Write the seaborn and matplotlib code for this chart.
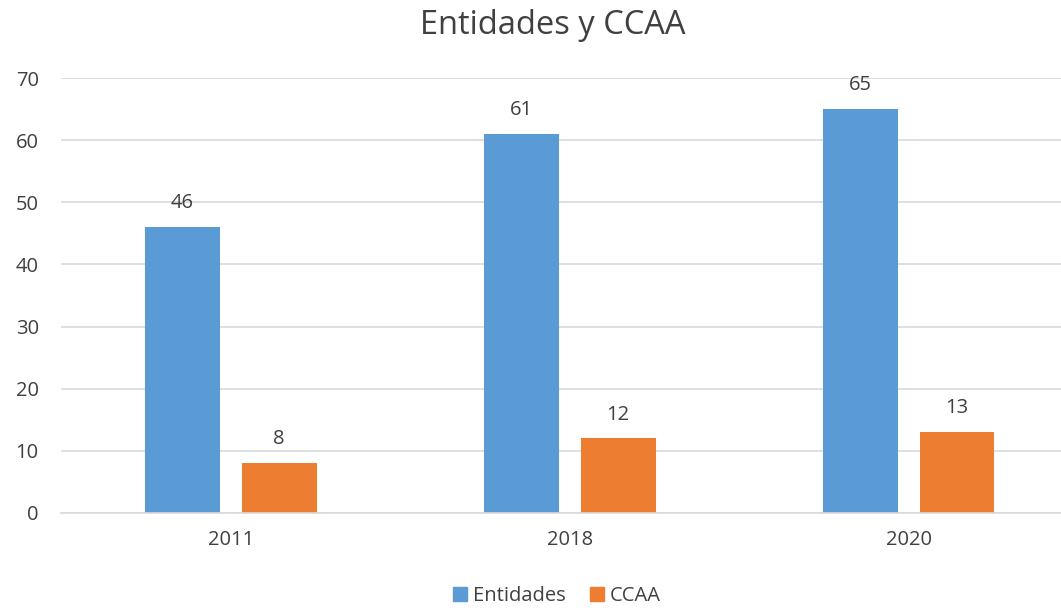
import pandas as pd
import matplotlib.pyplot as plt
import seaborn as sns
from matplotlib.patches import Patch

# datos del gráfico
years = ['2011', '2018', '2020']
entidades = [46, 61, 65]
ccaa = [8, 12, 13]
series_names = ['Entidades', 'CCAA']
colors = ['#5B9BD5', '#ED7D31']

df = pd.DataFrame({
    'year': years * 2,
    'value': entidades + ccaa,
    'serie': [series_names[0]] * len(years) + [series_names[1]] * len(years),
})

sns.set_style('white')
plt.rcParams['font.family'] = ['Open Sans', 'DejaVu Sans']

fig = plt.figure(figsize=(10.61, 6.10), dpi=100)
ax = fig.add_axes([61 / 1061, 1 - 513 / 610, 1 - 61 / 1061, 435 / 610])

sns.barplot(data=df, x='year', y='value', hue='serie', palette=colors,
            width=0.572, gap=0.227, ax=ax, legend=False, saturation=1,
            linewidth=0)

for cont in ax.containers:
    ax.bar_label(cont, padding=10, fontsize=14.5, color='#404040')

ax.set_ylim(0, 70)
ax.set_xlim(-0.501, 2.45)
ax.set_yticks(range(0, 71, 10))
ax.yaxis.grid(True, color='#D9D9D9', linewidth=1.2)
ax.set_axisbelow(True)
for side in ['top', 'right', 'left']:
    ax.spines[side].set_visible(False)
ax.spines['bottom'].set_color('#D9D9D9')
ax.spines['bottom'].set_linewidth(1.2)
ax.tick_params(axis='both', length=0, labelsize=14.5, labelcolor='#404040')
ax.tick_params(axis='x', pad=12)
ax.tick_params(axis='y', pad=16)
ax.set_xlabel('')
ax.set_ylabel('')

fig.text(553 / 1061, 1 - 26 / 610, 'Entidades y CCAA', ha='center', va='center',
         fontsize=23.5, color='#404040')

handles = [Patch(color=c, label=n) for c, n in zip(colors, series_names)]
fig.legend(handles=handles, loc='center', bbox_to_anchor=(557 / 1061, 1 - 596 / 610),
           ncol=2, frameon=False, fontsize=14.5, handlelength=0.7, handleheight=0.7,
           handletextpad=0.3, columnspacing=1.2, labelcolor='#404040')

fig.savefig('out.png', dpi=100)
